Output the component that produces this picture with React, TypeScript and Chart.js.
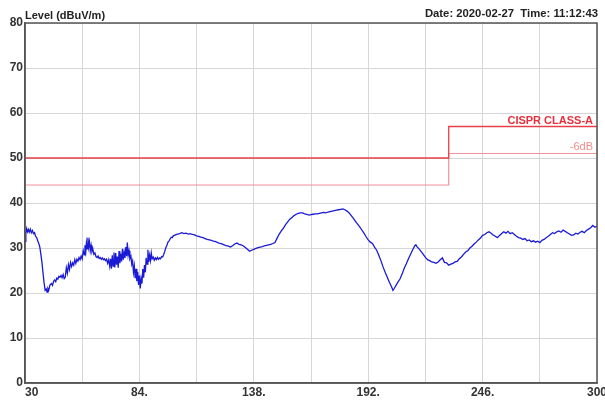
import React, { useEffect, useRef } from "react";
import { Chart, registerables } from "chart.js";

Chart.register(...registerables);

const freqs = [
  30, 30.4, 30.8, 31.2, 31.6, 32, 32.5, 33, 33.5, 34, 34.5, 35, 35.5, 36, 36.5, 37, 37.5, 38, 38.5, 39, 39.5, 40, 40.4, 40.8, 41.2, 41.8,
  42.5, 43, 43.5, 44, 44.5, 45, 45.5, 46, 46.5, 47, 47.5, 48, 48.5, 49, 49.5, 50, 50.5, 51, 51.5, 52, 52.5, 53, 53.5, 54, 54.5, 55,
  55.5, 56, 56.5, 57, 57.5, 58, 58.3, 58.7, 59, 59.4, 59.7, 60, 60.4, 60.8, 61.2, 61.6, 62, 62.5, 63, 63.5, 64, 64.5, 65, 65.5, 66,
  66.5, 67, 67.5, 68, 68.5, 69, 69.5, 70, 70.4, 70.8, 71.2, 71.6, 72, 72.4, 72.8, 73.2, 73.6, 74, 74.4, 74.8, 75.2, 75.6, 76, 76.4,
  76.8, 77.2, 77.6, 78, 78.3, 78.7, 79.1, 79.5, 80, 80.4, 80.8, 81.2, 81.6, 82, 82.4, 82.8, 83.2, 83.6, 84, 84.4, 84.8, 85.2, 85.6,
  86, 86.4, 86.8, 87.2, 87.6, 88, 88.4, 88.8, 89.2, 89.6, 90, 90.5, 91, 91.5, 92, 92.5, 93, 93.5, 94, 94.5, 95, 95.5, 96, 96.5, 97,
  97.5, 98, 98.5, 99, 99.5, 100, 101, 102, 103, 104, 105, 106, 107, 108, 109, 110, 111, 112, 113, 114, 115, 116, 117, 118, 119, 120,
  121, 122, 123, 124, 125, 126, 127, 128, 129, 130, 131, 132, 133, 134, 135, 136, 137, 138, 139, 140, 141, 142, 143, 144, 145, 146,
  147, 148, 149, 150, 151, 152, 153, 154, 155, 156, 157, 158, 159, 160, 161, 162, 163, 164, 165, 166, 167, 168, 169, 170, 171, 172,
  173, 174, 175, 176, 177, 178, 179, 180, 181, 182, 183, 184, 185, 186, 187, 188, 189, 190, 191, 192, 193, 194, 195, 196, 197, 198,
  199, 200, 201, 202, 203, 203.7, 204.3, 205, 206, 207, 208, 209, 210, 211, 212, 213, 214, 214.5, 215, 216, 217, 218, 219, 220, 221,
  222, 223, 224, 225, 226, 227, 227.5, 228, 229, 230, 231, 232, 233, 234, 235, 236, 237, 238, 239, 240, 241, 242, 243, 244, 245, 246,
  247, 248, 249, 250, 251, 252, 253, 254, 255, 256, 257, 258, 259, 260, 261, 262, 263, 264, 265, 266, 267, 268, 269, 270, 271, 272,
  273, 274, 275, 276, 277, 278, 279, 280, 281, 282, 283, 284, 285, 286, 287, 288, 289, 290, 291, 292, 293, 294, 295, 296, 297, 298,
  299, 300,
];

const levels = [
  31.5, 33.2, 34.3, 33.6, 34.1, 33.5, 34.2, 33.4, 33.9, 33.2, 33.4, 32.6, 32.3, 31.6, 31, 30.2, 28.6, 26.8, 24.5, 22.3, 20.6, 20.9, 20.2, 21, 20.6, 21.8,
  22.1, 21.7, 22.6, 22.9, 22.5, 23.3, 23.1, 23.7, 23.5, 23.9, 23.4, 24.1, 23.2, 23.5, 25.6, 24.4, 26.3, 25.2, 26.8, 25.9, 26.7, 26.2, 27.4, 26.6, 27.5, 27.1,
  27.9, 27.4, 28.2, 27.6, 29.4, 28.5, 30.6, 29.2, 31.2, 29.8, 32.3, 30.2, 31.4, 29.4, 30.6, 29.2, 29.8, 28.6, 28.9, 28.1, 27.9, 28.2, 27.7, 27.9, 27.5,
  27.8, 27.4, 27.6, 27.2, 27.5, 26.6, 27.4, 25.9, 27.6, 25.4, 28.4, 26, 29, 25.7, 28.9, 26.3, 28.1, 25.6, 29.3, 26.6, 28.7, 27, 29.8, 27.4,
  29.1, 27.8, 30.2, 28.2, 31.2, 28.4, 29.4, 27.6, 28.2, 26.4, 27.1, 24.6, 26, 23.3, 25.4, 22.6, 24.7, 21.8, 23.9, 21, 23.2, 22.1, 25.3,
  23.4, 26.2, 24.6, 27.8, 26.4, 29.6, 26.9, 28.4, 27.2, 28.9, 27.6, 28, 27.3, 27.8, 27.4, 27.9, 27.5, 27.8, 27.6, 28.1, 28, 28.6, 29.3, 30.1, 30.6,
  31.3, 31.6, 32, 32.4, 32.3, 32.7, 32.9, 33.1, 33.2, 33.4, 33.2, 33.3, 33.1, 33.2, 33, 32.9, 32.7, 32.6, 32.4, 32.3, 32.1, 31.9, 31.8, 31.7, 31.5, 31.4,
  31.2, 31, 30.9, 30.7, 30.5, 30.4, 30.2, 30.5, 30.9, 31.1, 30.8, 30.7, 30.5, 30.1, 29.7, 29.3, 29.5, 29.7, 29.9, 30.1, 30.2, 30.3, 30.5, 30.6, 30.7, 30.8,
  31, 31.2, 32.2, 33.1, 33.8, 34.4, 35.2, 35.8, 36.4, 36.8, 37.2, 37.5, 37.7, 37.8, 37.8, 37.6, 37.5, 37.3, 37.4, 37.5, 37.6, 37.6, 37.7, 37.8, 37.9, 37.8,
  38, 38.1, 38.2, 38.3, 38.4, 38.5, 38.6, 38.7, 38.5, 38.2, 37.8, 37.2, 36.6, 35.9, 35.3, 34.7, 34, 33.3, 32.5, 31.8, 31.3, 31, 30.2, 29.5, 28.4, 27.2,
  25.8, 24.6, 23.5, 22.4, 21.4, 20.6, 21, 21.6, 22.4, 23.1, 24.2, 25.5, 26.5, 27.6, 28.6, 29.6, 30.5, 30.7, 30.3, 29.8, 29.2, 28.6, 27.9, 27.4, 27.2,
  26.9, 26.8, 26.6, 26.9, 27.4, 27.8, 27.3, 26.8, 26.7, 26.2, 26.4, 26.6, 26.9, 27, 27.6, 28, 28.6, 29.1, 29.4, 30, 30.4, 30.9, 31.3, 31.8, 32.2, 32.8,
  33, 33.4, 33.6, 33.3, 32.9, 32.6, 32.3, 32.8, 33.2, 33.6, 33.3, 33.7, 33.2, 33.4, 33, 32.6, 32.3, 32.2, 31.9, 32.1, 31.6, 31.8, 31.4, 31.6, 31.3, 31.5,
  31.2, 31.7, 31.9, 32.3, 32.6, 33, 33.4, 33.2, 33.6, 33.8, 33.5, 34, 33.7, 33.4, 33.1, 32.8, 32.9, 33.3, 33.1, 33.5, 33.7, 33.4, 33.9, 34.2, 34.5, 35,
  34.6, 34.9,
];

const limitFreqs = [30, 230, 230, 300];
const limitClassA = [50, 50, 57, 57];
const limitMinus6 = [44, 44, 51, 51];

const xTickValues = [30, 84, 138, 192, 246, 300];
const xTickLabels = ["30", "84.", "138.", "192.", "246.", "300"];

const yAxisTitle = "Level (dBuV/m)";
const dateText = "Date: 2020-02-27  Time: 11:12:43";
const limitLabel = "CISPR CLASS-A";
const minus6Label = "-6dB";

const FONT = "'Liberation Sans', Arial, sans-serif";

const textPlugin = {
  id: "emcText",
  afterDraw(chart: any) {
    const { ctx, chartArea, scales } = chart;
    const x = scales.x;
    const y = scales.y;
    ctx.save();
    ctx.strokeStyle = "#555";
    ctx.lineWidth = 1.5;
    ctx.strokeRect(chartArea.left, chartArea.top, chartArea.right - chartArea.left, chartArea.bottom - chartArea.top);
    ctx.fillStyle = "#222";
    ctx.font = `bold 11px ${FONT}`;
    ctx.textBaseline = "alphabetic";
    ctx.textAlign = "left";
    ctx.fillText(yAxisTitle, chartArea.left, 19);
    ctx.font = `bold 11.3px ${FONT}`;
    ctx.textAlign = "right";
    ctx.fillText(dateText, 598, 17);
    ctx.font = `bold 12px ${FONT}`;
    ctx.fillStyle = "#333";
    ctx.textBaseline = "top";
    xTickValues.forEach((v, i) => {
      const px = x.getPixelForValue(v);
      ctx.textAlign = i === 0 ? "left" : "center";
      ctx.fillText(xTickLabels[i], px, 387);
    });
    ctx.textAlign = "right";
    ctx.textBaseline = "alphabetic";
    ctx.font = `bold 11px ${FONT}`;
    ctx.fillStyle = "#e8303c";
    ctx.fillText(limitLabel, 593, y.getPixelForValue(limitClassA[3]) - 3);
    ctx.font = `11px ${FONT}`;
    ctx.fillStyle = "#f08c8c";
    ctx.fillText(minus6Label, 593, y.getPixelForValue(limitMinus6[3]) - 4);
    ctx.restore();
  },
};

export default function App() {
  const ref = useRef<HTMLCanvasElement>(null);
  useEffect(() => {
    const canvas = ref.current;
    if (!canvas) return;
    const chart = new Chart(canvas, {
      type: "line",
      data: {
        datasets: [
          {
            label: "Level",
            data: freqs.map((f, i) => ({ x: f, y: levels[i] })),
            borderColor: "#1a1ad6",
            borderWidth: 1.3,
            pointRadius: 0,
            tension: 0,
          },
          {
            label: "CISPR CLASS-A",
            data: limitFreqs.map((f, i) => ({ x: f, y: limitClassA[i] })),
            borderColor: "#e8404a",
            borderWidth: 1.3,
            pointRadius: 0,
          },
          {
            label: "-6dB",
            data: limitFreqs.map((f, i) => ({ x: f, y: limitMinus6[i] })),
            borderColor: "#f2929c",
            borderWidth: 1.2,
            pointRadius: 0,
          },
        ],
      },
      options: {
        responsive: false,
        animation: false,
        layout: { padding: { top: 23, right: 8, left: 0, bottom: 0 } },
        plugins: { legend: { display: false }, tooltip: { enabled: false } },
        scales: {
          x: {
            type: "linear",
            min: 30,
            max: 300,
            ticks: { stepSize: 27, display: false },
            grid: { color: "#d6d6d6", lineWidth: 1, drawTicks: false },
            border: { color: "#555", width: 1.5 },
            afterFit: (s: any) => {
              s.height = 19;
            },
          },
          y: {
            min: 0,
            max: 80,
            ticks: {
              stepSize: 10,
              color: "#333",
              font: { family: FONT, size: 12, weight: "bold" },
              padding: 2,
            },
            grid: { color: "#d6d6d6", lineWidth: 1, drawTicks: false },
            border: { color: "#555", width: 1.5 },
            afterFit: (s: any) => {
              s.width = 25;
            },
          },
        },
      },
      plugins: [textPlugin],
    });
    return () => chart.destroy();
  }, []);
  return (
    <div style={{ position: "fixed", left: 0, top: 0, width: 605, height: 402, background: "#fff" }}>
      <canvas ref={ref} width={605} height={402} style={{ width: 605, height: 402 }} />
    </div>
  );
}
